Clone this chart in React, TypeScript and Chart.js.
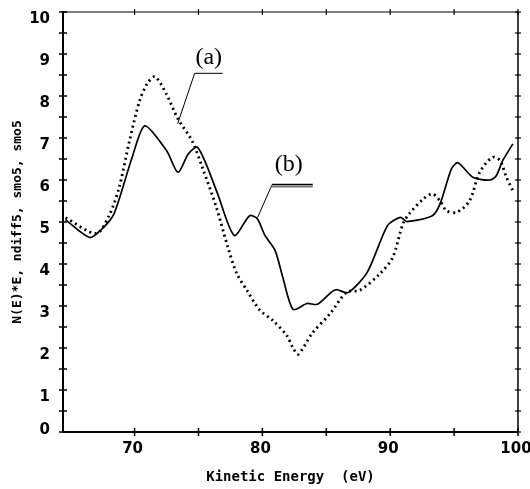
import React, { useEffect, useRef } from "react";
import { Chart, registerables } from "chart.js";

Chart.register(...registerables);

// Curve (b): solid line
const solidX = [64.6, 66.5, 67.5, 68.4, 69.8, 70.8, 72.5, 73.4, 74.2, 74.9, 75.6, 76.5, 77.8, 79.0, 79.6, 80.2, 81.0, 81.6, 82.4, 83.5, 84.3, 85.4, 85.8, 86.7, 88.2, 89.8, 90.8, 91.3, 93.3, 93.9, 94.8, 95.3, 96.5, 97.8, 98.3, 98.8, 99.6];
const solidY = [5.05, 4.63, 4.85, 5.2, 6.53, 7.29, 6.7, 6.18, 6.62, 6.78, 6.38, 5.67, 4.68, 5.15, 5.08, 4.68, 4.32, 3.68, 2.92, 3.06, 3.04, 3.33, 3.39, 3.32, 3.8, 4.92, 5.11, 5.01, 5.15, 5.43, 6.27, 6.41, 6.06, 6.0, 6.1, 6.46, 6.86];

// Curve (a): dotted line
const dottedX = [64.6, 67.0, 68.0, 68.8, 69.6, 70.4, 71.0, 71.6, 72.5, 73.4, 74.5, 75.3, 76.4, 77.3, 78.0, 78.8, 79.8, 80.8, 81.9, 82.4, 82.8, 83.9, 85.3, 86.6, 87.6, 89.2, 90.2, 91.0, 91.5, 92.6, 93.3, 93.9, 94.4, 95.2, 96.2, 97.0, 98.0, 98.6, 99.1, 99.6];
const dottedY = [5.1, 4.73, 5.15, 5.83, 6.93, 7.89, 8.3, 8.46, 8.04, 7.45, 6.93, 6.3, 5.35, 4.4, 3.77, 3.37, 2.9, 2.66, 2.3, 2.0, 1.85, 2.35, 2.82, 3.33, 3.37, 3.77, 4.16, 4.96, 5.2, 5.55, 5.67, 5.5, 5.27, 5.23, 5.5, 6.18, 6.54, 6.46, 6.06, 5.75];

const xTickValues = [70, 75, 80, 85, 90, 95, 100];
const xLabelValues = [70, 80, 90, 100];
const yTickValues = [0, 0.5, 1, 1.5, 2, 2.5, 3, 3.5, 4, 4.5, 5, 5.5, 6, 6.5, 7, 7.5, 8, 8.5, 9, 9.5, 10];
const yLabelValues = [0, 1, 2, 3, 4, 5, 6, 7, 8, 9, 10];

const xTitle = "Kinetic Energy  (eV)";
const yTitle = "N(E)*E, ndiff5, smo5, smo5";

const annotationA = { text: "(a)", x: 75.8, y: 8.91, ux0: 74.7, ux1: 76.9, uy: 8.54, lx: 73.37, ly: 7.34 };
const annotationB = { text: "(b)", x: 82.06, y: 6.37, ux0: 80.73, ux1: 83.94, uy: 5.87, lx: 79.63, ly: 5.11 };

const framePlugin = {
  id: "frame",
  afterDraw(chart: any) {
    const { ctx, chartArea, scales } = chart;
    const { left, right, top, bottom } = chartArea;
    const x = scales.x;
    const y = scales.y;
    const line = (x0: number, y0: number, x1: number, y1: number, w: number) => {
      ctx.lineWidth = w;
      ctx.beginPath();
      ctx.moveTo(x0, y0);
      ctx.lineTo(x1, y1);
      ctx.stroke();
    };
    ctx.save();
    ctx.strokeStyle = "#000";
    line(left, top, right, top, 1);
    line(right, top, right, bottom, 1.5);
    line(left, bottom, right, bottom, 2);
    line(left, top - 1, left, bottom + 1, 2);
    y.ticks.forEach((t: any) => {
      const py = y.getPixelForValue(t.value);
      line(left - 4, py, left + 4, py, 1.5);
      line(right - 3, py, right + 3, py, 1.2);
    });
    x.ticks.forEach((t: any) => {
      const px = x.getPixelForValue(t.value);
      line(px, bottom - 4, px, bottom + 4, 1.5);
      line(px, top - 3, px, top + 3, 1.2);
    });
    const drawAnn = (a: any, thick: boolean) => {
      ctx.fillStyle = "#000";
      ctx.font = "24px 'Liberation Serif', serif";
      ctx.textAlign = "center";
      ctx.textBaseline = "middle";
      ctx.fillText(a.text, x.getPixelForValue(a.x), y.getPixelForValue(a.y));
      const uy = y.getPixelForValue(a.uy);
      const ux0 = x.getPixelForValue(a.ux0);
      const ux1 = x.getPixelForValue(a.ux1);
      if (thick) {
        ctx.strokeStyle = "#000";
        line(ux0, uy - 1, ux1, uy - 1, 1.5);
        ctx.strokeStyle = "#777";
        line(ux0, uy + 1, ux1, uy + 1, 2);
        ctx.strokeStyle = "#000";
      } else {
        line(ux0, uy, ux1, uy, 1);
      }
      line(ux0, uy, x.getPixelForValue(a.lx), y.getPixelForValue(a.ly), 1);
    };
    drawAnn(annotationA, false);
    drawAnn(annotationB, true);
    ctx.restore();
  },
};

export default function App() {
  const ref = useRef<HTMLCanvasElement>(null);
  useEffect(() => {
    if (!ref.current) return;
    const chart = new Chart(ref.current, {
      type: "line",
      data: {
        datasets: [
          {
            label: "(a)",
            data: dottedX.map((v, i) => ({ x: v, y: dottedY[i] })),
            borderColor: "#000",
            borderWidth: 2.8,
            borderDash: [2, 3.5],
            pointRadius: 0,
            tension: 0.3,
            fill: false,
          },
          {
            label: "(b)",
            data: solidX.map((v, i) => ({ x: v, y: solidY[i] })),
            borderColor: "#000",
            borderWidth: 1.7,
            pointRadius: 0,
            tension: 0.25,
            fill: false,
          },
        ],
      },
      options: {
        responsive: false,
        animation: false,
        devicePixelRatio: 1,
        layout: { padding: { top: 12, right: 12, left: 0, bottom: 0 } },
        plugins: { legend: { display: false }, tooltip: { enabled: false } },
        scales: {
          x: {
            type: "linear",
            min: 64.4,
            max: 100,
            grid: { display: false, drawTicks: false },
            border: { display: false },
            afterBuildTicks: (s: any) => {
              s.ticks = xTickValues.map((v) => ({ value: v }));
            },
            afterFit: (s: any) => {
              s.height = 57;
              s.paddingLeft = 0;
              s.paddingRight = 0;
            },
            ticks: {
              autoSkip: false,
              maxRotation: 0,
              padding: 8,
              labelOffset: -2,
              color: "#000",
              font: { family: "'DejaVu Sans'", size: 15, weight: "bold" },
              callback: (v: any) => (xLabelValues.includes(Number(v)) ? String(v) : ""),
            },
            title: {
              display: true,
              text: xTitle,
              color: "#000",
              font: { family: "'DejaVu Sans Mono'", size: 14, weight: "bold" },
              padding: { top: 0, bottom: 3 },
            },
          },
          y: {
            type: "linear",
            min: 0,
            max: 10,
            grid: { display: false, drawTicks: false },
            border: { display: false },
            afterBuildTicks: (s: any) => {
              s.ticks = yTickValues.map((v) => ({ value: v }));
            },
            afterFit: (s: any) => {
              s.width = 63;
              s.paddingTop = 0;
              s.paddingBottom = 0;
            },
            ticks: {
              autoSkip: false,
              padding: 13,
              labelOffset: 7,
              color: "#000",
              font: { family: "'DejaVu Sans'", size: 15, weight: "bold" },
              callback: (v: any) => {
                const n = Number(v);
                if (!yLabelValues.includes(n)) return "";
                return n === 0 ? ["0", ""] : String(n);
              },
            },
            title: {
              display: true,
              text: yTitle,
              color: "#000",
              font: { family: "'DejaVu Sans Mono'", size: 13, weight: "bold" },
              padding: { top: 10, bottom: 0 },
            },
          },
        },
      },
      plugins: [framePlugin],
    });
    return () => chart.destroy();
  }, []);
  return (
    <div style={{ position: "fixed", left: 0, top: 0, width: 530, height: 489, background: "#fff" }}>
      <canvas ref={ref} width={530} height={489} style={{ width: 530, height: 489, display: "block" }} />
    </div>
  );
}
